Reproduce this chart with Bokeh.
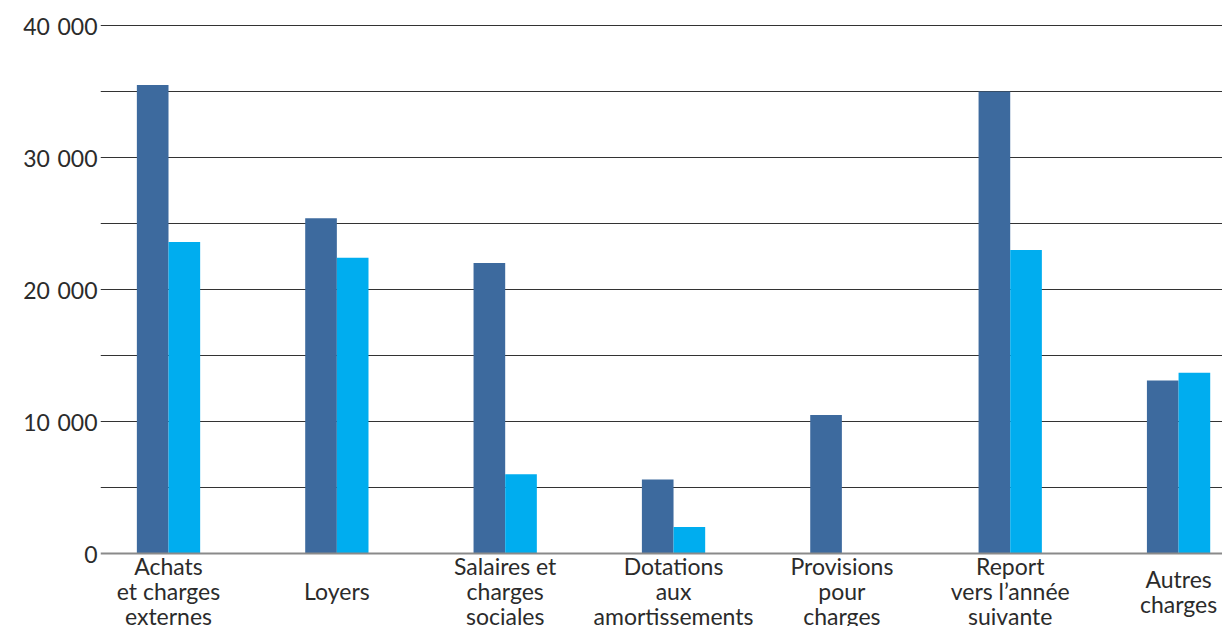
from bokeh.plotting import figure
from bokeh.models import Range1d, FixedTicker, Span, ColumnDataSource
from bokeh.core.properties import value
from bokeh.embed import file_html
from bokeh.resources import INLINE

# Charges par poste, deux exercices
categories = [
    "Achats\net charges\nexternes",
    "Loyers",
    "Salaires et\ncharges\nsociales",
    "Dotations\naux\namortissements",
    "Provisions\npour\ncharges",
    "Report\nvers l\u2019ann\u00e9e\nsuivante",
    "Autres\ncharges",
]
serie_a = [35500, 25400, 22000, 5600, 10500, 35000, 13100]
serie_b = [23600, 22400, 6000, 2000, 0, 23000, 13700]
y_ticks = [0, 10000, 20000, 30000, 40000]
y_tick_labels = ["0", "10\u2004000", "20\u2004000", "30\u2004000", "40\u2004000"]

FONT = "Lato"
TEXT_COLOR = "#2b2b2b"
DARK = "#3d6a9e"
LIGHT = "#00adef"

xs = list(range(len(categories)))
bar_w = 0.188

src = ColumnDataSource(dict(
    x=xs,
    xa=[x - bar_w / 2 for x in xs],
    xb=[x + bar_w / 2 for x in xs],
    a=serie_a,
    b=serie_b,
    label=categories,
    label_y=[-2850] * len(xs),
))

p = figure(
    width=1222, height=626,
    x_range=Range1d(-0.404, 6.261),
    y_range=Range1d(-5530, 40380),
    output_backend="svg", toolbar_location=None,
    min_border_left=100, min_border_right=0,
    min_border_top=20, min_border_bottom=0,
)
p.outline_line_color = None
p.background_fill_color = "white"
p.border_fill_color = "white"

# x axis replaced by text labels under the bars
p.xaxis.visible = False
p.xgrid.visible = False

yax = p.yaxis[0]
yax.ticker = FixedTicker(ticks=y_ticks)
yax.major_label_overrides = {t: l for t, l in zip(y_ticks, y_tick_labels)}
yax.axis_line_color = None
yax.major_tick_line_color = None
yax.minor_tick_line_color = None
yax.major_tick_out = 0
yax.major_tick_in = 0
yax.major_label_standoff = 3
yax.major_label_text_font = FONT
yax.major_label_text_font_size = "23px"
yax.major_label_text_color = TEXT_COLOR

p.ygrid.ticker = FixedTicker(ticks=list(range(5000, 40001, 5000)))
p.ygrid.grid_line_color = "#333333"
p.ygrid.grid_line_width = 1

p.vbar(x="xa", top="a", bottom=0, width=bar_w, source=src,
       fill_color=DARK, line_color=None)
p.vbar(x="xb", top="b", bottom=0, width=bar_w, source=src,
       fill_color=LIGHT, line_color=None)

p.add_layout(Span(location=0, dimension="width", line_color="#8a8a8a", line_width=2))

p.text(x="x", y="label_y", text="label", source=src,
       text_font=value(FONT), text_font_size="23px", text_color=TEXT_COLOR,
       text_align="center", text_baseline="middle", text_line_height=0.9)

open("out.html", "w").write(file_html(p, INLINE))
